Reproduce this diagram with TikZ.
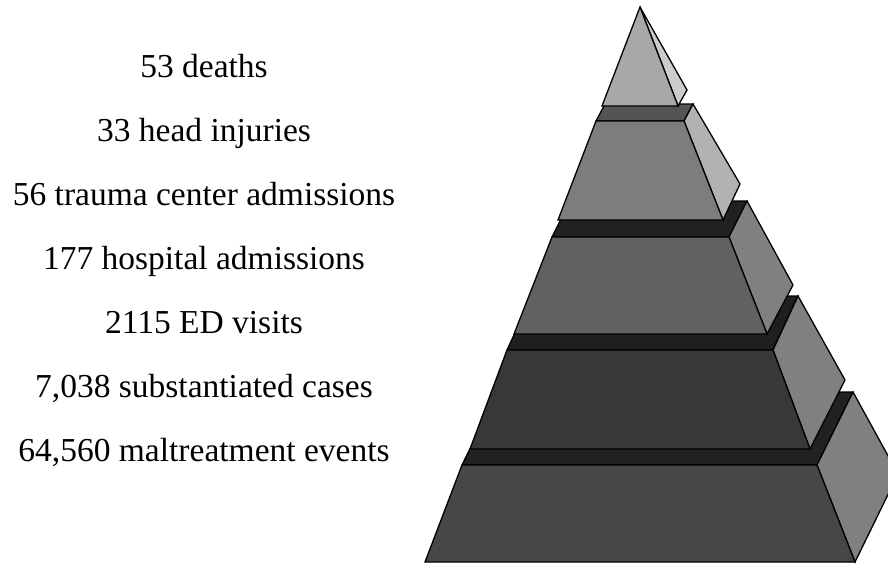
\documentclass[tikz,border=0pt]{standalone}
\usepackage{fontspec}
\setmainfont{Liberation Serif}
\usetikzlibrary{positioning}

\tikzset{
  face/.style={draw=black, line width=1.3pt, line join=miter},
  countlabel/.style={font=\fontsize{33.5}{40}\selectfont, inner sep=0pt, anchor=base}
}

\begin{document}
\begin{tikzpicture}[x=1pt,y=-1pt]
    \useasboundingbox (0,0) rectangle (888,563);
    \clip (0,0) rectangle (888,563);

    % the counts, top to bottom
    \node[countlabel] (deaths)    at (204,77)  {53 deaths};
    \node[countlabel] (head)      at (204,141) {33 head injuries};
    \node[countlabel] (trauma)    at (204,205) {56 trauma center admissions};
    \node[countlabel] (hospital)  at (204,269) {177 hospital admissions};
    \node[countlabel] (ed)        at (204,333) {2115 ED visits};
    \node[countlabel] (cases)     at (204,397) {7,038 substantiated cases};
    \node[countlabel] (events)    at (204,461) {64,560 maltreatment events};

    % the four lower tiers, drawn from the bottom up
    % front corners, depth at top and bottom, grey of front/top/side
    \foreach \blx/\brx/\yb/\tlx/\trx/\yt/\dtx/\dty/\dbx/\dby/\cf/\ct/\cs in {
        425/855/562/462/817/465/36/-73/43/-88/72/87/50,
        470/810/449/507/773/350/25/-54/35/-69/78/88/50,
        514/767/334/552/729/237/18/-36/26/-49/62/87/50,
        558/723/220/596/684/121/9/-17/17/-36/51/67/30}
    {
        % top face
        \filldraw[face, fill=black!\ct] (\tlx,\yt) -- (\trx,\yt)
            -- ({\trx+\dtx},{\yt+\dty}) -- ({\tlx+\dtx},{\yt+\dty}) -- cycle;
        % right face
        \filldraw[face, fill=black!\cs] (\trx,\yt) -- ({\trx+\dtx},{\yt+\dty})
            -- ({\brx+\dbx},{\yb+\dby}) -- (\brx,\yb) -- cycle;
        % front face
        \filldraw[face, fill=black!\cf] (\blx,\yb) -- (\brx,\yb)
            -- (\trx,\yt) -- (\tlx,\yt) -- cycle;
    }

    % the tip
    \coordinate (apex) at (640,7);
    \coordinate (tipL) at (602,106);
    \coordinate (tipR) at (678,106);
    \coordinate (tipB) at (687,90);
    \filldraw[face, fill=black!20] (apex) -- (tipB) -- (tipR) -- cycle;
    \filldraw[face, fill=black!34] (tipL) -- (tipR) -- (apex) -- cycle;
\end{tikzpicture}
\end{document}
